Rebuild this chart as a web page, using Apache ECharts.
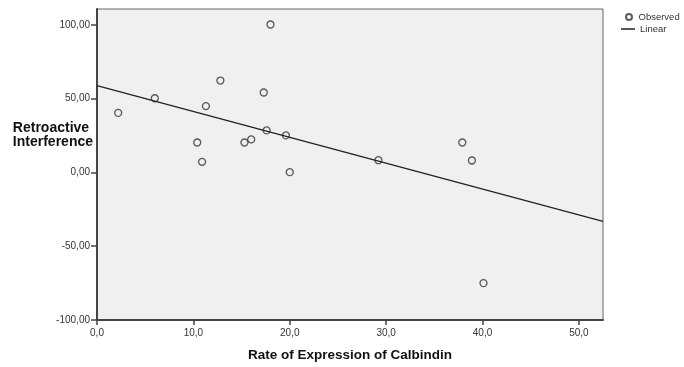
<!DOCTYPE html>
<html>
<head>
<meta charset="utf-8">
<script src="https://cdn.jsdelivr.net/npm/echarts@6/dist/echarts.min.js"></script>
<style>
  html, body { margin: 0; padding: 0; background: #fff; }
  #chart { width: 684px; height: 367px; }
</style>
</head>
<body>
<div id="chart"></div>
<script>
// observed points: [calbindin rate, retroactive interference]
var observed = [
  [2.2, 40.4], [6.0, 50.3], [10.4, 20.3], [10.9, 7.2], [11.3, 45.0],
  [12.8, 62.3], [15.3, 20.3], [16.0, 22.4], [17.3, 54.2], [17.6, 28.5],
  [18.0, 100.3], [19.6, 25.1], [20.0, 0.2], [29.2, 8.3], [37.9, 20.3],
  [38.9, 8.1], [40.1, -75.0]
];
// fitted line, read at both ends of the plot
var linear = [[0, 58.9], [52.5, -33.2]];
var xTicks = [0, 10, 20, 30, 40, 50];
var yTicks = [-100, -50, 0, 50, 100];

var font = 'Liberation Sans, Arial, sans-serif';
var chart = echarts.init(document.getElementById('chart'));

function comma(v, d) {
  return v.toFixed(d).replace('.', ',');
}

var legendText = { fontSize: 9.5, color: '#333', fontFamily: font };

var option = {
  animation: false,
  textStyle: { fontFamily: font },
  grid: {
    left: 97, right: 81, top: 9, bottom: 47,
    show: true,
    backgroundColor: '#f0f0f0',
    borderColor: '#666',
    borderWidth: 1
  },
  legend: [{
    left: 625,
    top: 12,
    padding: 0,
    itemWidth: 9,
    itemHeight: 6,
    textStyle: legendText,
    data: ['Observed']
  }, {
    left: 621,
    top: 24,
    padding: 0,
    itemWidth: 14,
    itemHeight: 1.5,
    icon: 'rect',
    textStyle: legendText,
    data: ['Linear']
  }],
  graphic: [{
    type: 'text',
    right: 591,
    top: 121,
    style: {
      text: 'Retroactive\nInterference',
      font: 'bold 14px ' + font,
      fill: '#111',
      align: 'right',
      lineHeight: 14
    }
  }],
  xAxis: {
    type: 'value',
    min: 0,
    max: 52.5,
    name: 'Rate of Expression of Calbindin',
    nameLocation: 'middle',
    nameGap: 28,
    nameTextStyle: { fontWeight: 'bold', fontSize: 13.5, color: '#111' },
    splitLine: { show: false },
    axisLine: { onZero: false, lineStyle: { color: '#444', width: 2 } },
    axisTick: { show: true, length: 5, customValues: xTicks, lineStyle: { color: '#444', width: 1.5 } },
    axisLabel: {
      customValues: xTicks,
      fontSize: 10, color: '#333', margin: 8,
      formatter: function (v) { return comma(v, 1); }
    }
  },
  yAxis: {
    type: 'value',
    min: -100,
    max: 110.8,
    splitLine: { show: false },
    axisLine: { show: true, onZero: false, lineStyle: { color: '#444', width: 2 } },
    axisTick: { show: true, length: 6, customValues: yTicks, lineStyle: { color: '#444', width: 1.5 } },
    axisLabel: {
      customValues: yTicks,
      fontSize: 10, color: '#333', margin: 7,
      formatter: function (v) { return comma(v, 2); }
    }
  },
  series: [
    {
      name: 'Observed',
      type: 'scatter',
      data: observed,
      symbol: 'circle',
      symbolSize: 7,
      itemStyle: { color: 'rgba(0,0,0,0)', borderColor: '#333', borderWidth: 1.3 }
    },
    {
      name: 'Linear',
      type: 'line',
      data: linear,
      symbol: 'none',
      lineStyle: { color: '#222', width: 1.3 },
      itemStyle: { color: '#222' }
    }
  ]
};

chart.setOption(option);
</script>
</body>
</html>
